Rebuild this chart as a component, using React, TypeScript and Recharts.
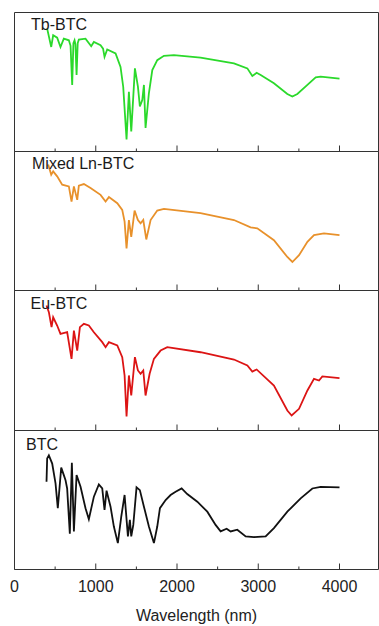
import { LineChart, Line, XAxis, YAxis } from "recharts";

// readings, y in % of each panel's height
const tbX = [402, 452, 476, 525, 566, 607, 669, 690, 710, 725, 739, 750, 764, 778, 792, 874, 944, 977, 1059, 1090, 1108, 1141, 1244, 1305, 1338, 1379, 1408, 1437, 1482, 1519, 1543, 1573, 1593, 1613, 1654, 1696, 1757, 1839, 1962, 2290, 2701, 2866, 2927, 2980, 3030, 3193, 3358, 3420, 3481, 3605, 3707, 3768, 4000];
const tbY = [88.4, 75.2, 83.6, 81.9, 75.2, 81.2, 80, 76, 47.9, 78, 80, 77, 55, 78, 80.5, 81.2, 75.7, 78.8, 76.4, 74, 68.1, 73.4, 70.5, 60.9, 46.6, 8.6, 43, 14.5, 59.8, 46.6, 32.4, 37.1, 47.9, 16.9, 41.9, 58.6, 65.7, 68.8, 69.3, 67.6, 63.4, 59.8, 54.3, 56.6, 55, 49.1, 41.4, 39.5, 41.4, 47.9, 53.4, 53.8, 52.4];

const mixedX = [415, 452, 476, 525, 587, 669, 702, 731, 772, 792, 854, 936, 1059, 1121, 1162, 1265, 1326, 1355, 1379, 1408, 1437, 1478, 1519, 1552, 1585, 1622, 1675, 1757, 1839, 2290, 2701, 2906, 2988, 3193, 3358, 3420, 3502, 3605, 3686, 3809, 4000];
const mixedY = [90.6, 83.3, 85.7, 82.1, 76.1, 74.9, 64, 74.9, 65.2, 75.4, 76.6, 73.7, 68.8, 64, 67.2, 62.8, 58, 49.5, 30.2, 50.7, 38.6, 57.5, 50.7, 48.3, 50.7, 36.7, 50.7, 57.5, 58.7, 55.6, 50.7, 45.4, 44.7, 36.2, 24.1, 20.5, 25.4, 35, 39.9, 41.1, 39.9];

const euX = [394, 423, 456, 476, 525, 566, 648, 702, 731, 772, 805, 854, 915, 977, 1080, 1121, 1162, 1265, 1326, 1355, 1379, 1408, 1437, 1482, 1519, 1552, 1585, 1613, 1663, 1716, 1798, 1880, 2290, 2701, 2866, 2927, 2980, 3193, 3358, 3411, 3502, 3605, 3686, 3748, 3789, 4000];
const euY = [89.3, 84.5, 73.8, 80.9, 75, 69, 70.2, 51.2, 71.4, 57.1, 73.8, 76.2, 75, 70.2, 63.1, 59.5, 63.1, 60.7, 52.4, 39.3, 10, 39.3, 25, 52.4, 42.9, 40.5, 42.9, 25, 40.5, 51.2, 57.1, 59.5, 55.9, 50.7, 46.4, 42.1, 43.6, 32.1, 14.3, 10.7, 15.5, 28.6, 36.9, 35.7, 38.6, 37.4];

const btcX = [394, 402, 423, 464, 505, 533, 575, 607, 628, 648, 681, 706, 731, 764, 813, 874, 915, 977, 1038, 1080, 1108, 1133, 1182, 1223, 1272, 1314, 1355, 1396, 1420, 1437, 1462, 1502, 1543, 1593, 1654, 1716, 1757, 1790, 1860, 1921, 1983, 2057, 2126, 2250, 2373, 2475, 2537, 2611, 2660, 2742, 2845, 2947, 3091, 3193, 3358, 3522, 3666, 3768, 4000];
const btcY = [63.1, 79.8, 82.1, 76.2, 61.9, 44.1, 73.3, 67.9, 64.3, 58.3, 25.7, 76.7, 27.4, 67.9, 59.5, 44.1, 36.2, 52.4, 61.2, 58.3, 42.9, 56.7, 45.2, 30.9, 19, 38.1, 53.6, 23.8, 35.7, 23.8, 32.1, 59.1, 57.1, 45.2, 30.9, 19, 30.9, 44.1, 50, 53.6, 55.9, 58.3, 54.3, 48.8, 41.6, 32.1, 27.4, 29.3, 27.4, 28.6, 23.8, 23.3, 23.8, 29.8, 41.6, 51.2, 58.3, 59.5, 59.1];

const xTicks = [0, 500, 1000, 1500, 2000, 2500, 3000, 3500, 4000];

const FONT = "'Liberation Sans', Arial, sans-serif";
const FRAME = "#333";
const X_DOMAIN: [number, number] = [0, 4480];

type PanelDef = {
  name: string;
  xs: number[];
  ys: number[];
  color: string;
  top: number;
  height: number;
  labelX: number;
  labelBaseline: number;
};

const panels: PanelDef[] = [
  { name: "Tb-BTC", xs: tbX, ys: tbY, color: "#2bd92b", top: 12, height: 139, labelX: 31, labelBaseline: 17.5 },
  { name: "Mixed Ln-BTC", xs: mixedX, ys: mixedY, color: "#e8912b", top: 151, height: 139, labelX: 32, labelBaseline: 18 },
  { name: "Eu-BTC", xs: euX, ys: euY, color: "#dc1414", top: 290, height: 140, labelX: 30.5, labelBaseline: 18.5 },
  { name: "BTC", xs: btcX, ys: btcY, color: "#111111", top: 430, height: 139, labelX: 26, labelBaseline: 19.5 },
];

// inward tick marks (long on thousands, short on halves), numbers only on the last panel
function TickMark(props: any) {
  const { x, y, payload, showLabel } = props;
  const major = payload.value % 1000 === 0;
  return (
    <g>
      <line x1={x} x2={x} y1={y} y2={y - (major ? 6 : 3)} stroke={FRAME} strokeWidth={1} />
      {showLabel && major && (
        <text x={x} y={y + 22.2} textAnchor="middle" fontSize={16} fill="#222" fontFamily={FONT}>
          {payload.value}
        </text>
      )}
    </g>
  );
}

function Panel({ p, last }: { p: PanelDef; last: boolean }) {
  const data = p.xs.map((x, i) => ({ x, y: p.ys[i] }));
  const chartTop = p.top - 3;
  const height = last ? 626 - chartTop : p.height + 6;
  const marginBottom = last ? height - 3.5 - p.height - 1 : 1.5;

  return (
    <div style={{ position: "absolute", left: 0, top: chartTop }}>
      <LineChart
        width={381}
        height={height}
        data={data}
        margin={{ top: 2.5, right: 1.5, bottom: marginBottom, left: 13.5 }}
        style={{ fontFamily: FONT }}
      >
        <XAxis
          xAxisId="bottom"
          dataKey="x"
          type="number"
          domain={X_DOMAIN}
          ticks={xTicks}
          height={1}
          tickSize={0}
          tickMargin={0}
          tickLine={false}
          stroke={FRAME}
          tick={(t: any) => <TickMark {...t} showLabel={last} />}
          label={
            last
              ? { value: "Wavelength (nm)", position: "bottom", offset: 39, fontSize: 16, fill: "#222", fontFamily: FONT }
              : undefined
          }
        />
        <XAxis
          xAxisId="top"
          orientation="top"
          type="number"
          domain={X_DOMAIN}
          height={1}
          tick={false}
          tickLine={false}
          stroke={FRAME}
        />
        <YAxis
          yAxisId="left"
          type="number"
          domain={[0, 100]}
          width={1}
          tick={false}
          tickLine={false}
          stroke={FRAME}
          label={{
            content: () => (
              <text x={p.labelX} y={3 + p.labelBaseline} fontSize={16} fill="#1a1a1a" fontFamily={FONT}>
                {p.name}
              </text>
            ),
          }}
        />
        <YAxis
          yAxisId="right"
          orientation="right"
          type="number"
          domain={[0, 100]}
          width={1}
          tick={false}
          tickLine={false}
          stroke={FRAME}
        />
        <Line
          xAxisId="bottom"
          yAxisId="left"
          dataKey="y"
          type="linear"
          stroke={p.color}
          strokeWidth={1.8}
          dot={false}
          isAnimationActive={false}
        />
      </LineChart>
    </div>
  );
}

export default function App() {
  return (
    <div style={{ position: "absolute", left: 0, top: 0, width: 379, height: 626, overflow: "hidden", background: "#fff" }}>
      {panels.map((p, i) => (
        <Panel key={p.name} p={p} last={i === panels.length - 1} />
      ))}
    </div>
  );
}
